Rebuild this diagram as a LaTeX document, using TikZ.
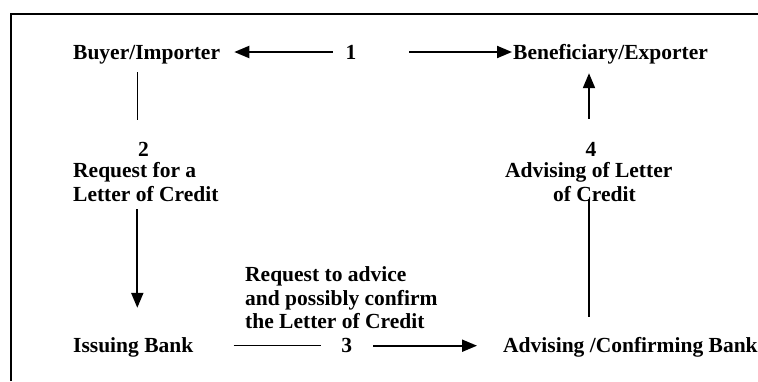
\documentclass[tikz,border=0pt]{standalone}
\usepackage{fontspec}
\setmainfont{Liberation Serif}
\usetikzlibrary{arrows.meta}

\tikzset{
  txt/.style={inner sep=0pt, font=\fontsize{21.5}{23.3}\selectfont\bfseries},
  lbl/.style={txt, text height=14pt, text depth=0pt},
  para/.style={txt, align=left},
  arrowline/.style={line width=2pt, -{Triangle[length=15pt,width=12pt]}},
  plainline/.style={line width=1.3pt},
}

\begin{document}
\begin{tikzpicture}[x=1pt,y=-1pt]
  \useasboundingbox (0,0) rectangle (758,381);

  % open frame: top and left edges
  \draw[line width=2pt] (11,381) -- (11,13.5) -- (758,13.5);

  % column guides for the vertical connectors
  \coordinate (colL) at (137.3,0);
  \coordinate (colR) at (589,0);

  % parties and step labels (multi-line nodes sit on their last baseline)
  \node[lbl, anchor=base west] (buyer) at (73,59) {Buyer/Importer};
  \node[lbl, anchor=base] (n1) at (351,59) {1};
  \node[lbl, anchor=base west] (benef) at (513,59) {Beneficiary/Exporter};

  \node[lbl, anchor=base] (n2) at (143.5,156) {2};
  \node[para, anchor=base west] (req) at (73,201) {Request for a\\Letter of Credit};

  \node[lbl, anchor=base] (n4) at (591,156) {4};
  \node[para, anchor=base west] (adv) at (505,201) {Advising of Letter\\\hspace*{48pt}of Credit};

  \node[para, anchor=base west] (reqadv) at (245,328.3) {Request to advice\\and possibly confirm\\the Letter of Credit};

  \node[lbl, anchor=base west] (issuing) at (73,352.7) {Issuing Bank};
  \node[lbl, anchor=base] (n3) at (346.7,352.7) {3};
  \node[lbl, anchor=base west] (advbank) at (503,352.7) {Advising /Confirming Bank};

  % step 1
  \draw[arrowline, shorten <=12.6pt, shorten >=14pt] (n1.west) -- (buyer.east);
  \draw[arrowline, shorten <=52.6pt, shorten >=1pt] (n1.east) -- (benef.west);

  % step 2
  \draw[plainline, shorten <=13pt, shorten >=22pt] (buyer.south -| colL) -- (n2.north -| colL);
  \draw[arrowline, shorten <=8pt, shorten >=30.7pt] (req.south -| colL) -- (issuing.north -| colL);

  % step 3
  \draw[plainline, shorten <=40pt, shorten >=20pt] (issuing.east) -- (n3.west);
  \draw[arrowline, shorten <=21pt, shorten >=26pt] (n3.east) -- (advbank.west);

  % step 4
  \draw[plainline, shorten <=21.7pt, shorten >=-2pt] (advbank.north -| colR) -- (adv.south -| colR);
  \draw[arrowline, shorten <=23pt, shorten >=14pt] (n4.north -| colR) -- (benef.south -| colR);
\end{tikzpicture}
\end{document}
